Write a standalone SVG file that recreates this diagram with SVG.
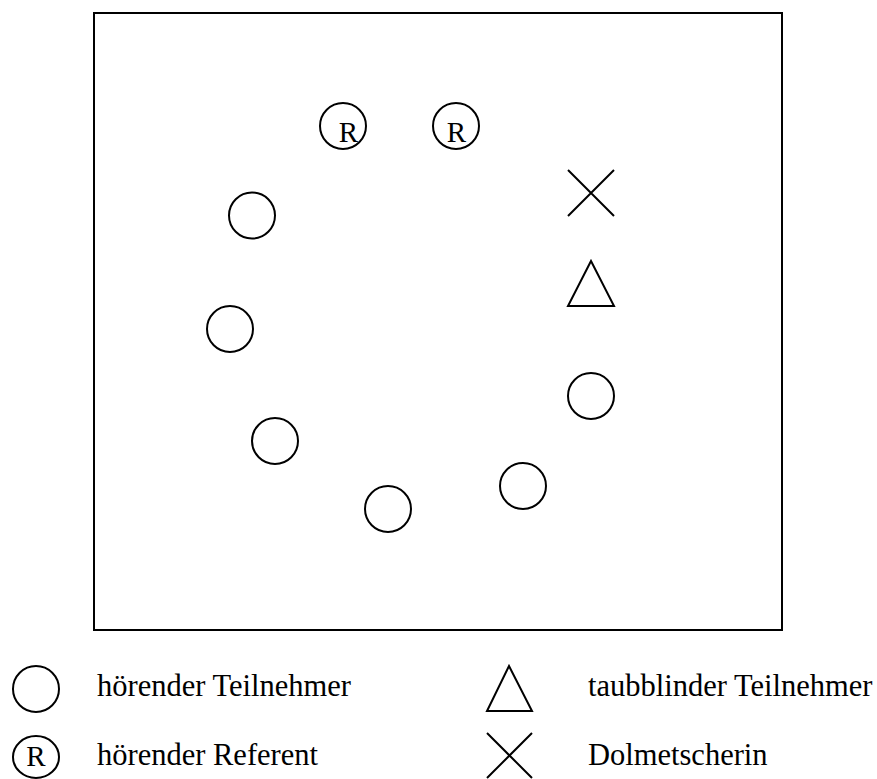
<svg xmlns="http://www.w3.org/2000/svg" width="877" height="779" viewBox="0 0 877 779">
<style>
.s{fill:none;stroke:#000;stroke-width:2}
.t{font-family:"Liberation Serif","Times New Roman",serif;font-size:30.5px;fill:#000}
.r{font-family:"Liberation Serif","Times New Roman",serif;font-size:29px;fill:#000;text-anchor:middle}
</style>
<rect class="s" x="94" y="13" width="688" height="617"/>
<g id="ref1"><circle class="s" cx="343" cy="126" r="23"/><text class="r" x="348.5" y="142">R</text></g>
<g id="ref2"><circle class="s" cx="456" cy="126" r="23"/><text class="r" x="456.5" y="142">R</text></g>
<g id="dolmetscherin"><path class="s" d="M568 170L614 216M614 170L568 216"/></g>
<g id="taubblind"><path class="s" d="M591 261L614 306H568Z"/></g>
<g id="p1"><circle class="s" cx="252" cy="215.5" r="23"/></g>
<g id="p2"><circle class="s" cx="230" cy="329" r="23"/></g>
<g id="p3"><circle class="s" cx="275" cy="441" r="23"/></g>
<g id="p4"><circle class="s" cx="388" cy="509" r="23"/></g>
<g id="p5"><circle class="s" cx="523" cy="486" r="23"/></g>
<g id="p6"><circle class="s" cx="591" cy="396" r="23"/></g>
<g id="legend">
<circle class="s" cx="36" cy="689" r="23"/>
<text class="t" x="97" y="696">hörender Teilnehmer</text>
<ellipse class="s" cx="36" cy="757" rx="23" ry="21"/>
<text class="r" x="36" y="766">R</text>
<text class="t" x="97" y="765">hörender Referent</text>
<path class="s" d="M509 666L532 711H487Z"/>
<text class="t" x="588" y="696">taubblinder Teilnehmer</text>
<path class="s" d="M487 733L532 778M532 733L487 778"/>
<text class="t" x="588" y="765">Dolmetscherin</text>
</g>
</svg>
